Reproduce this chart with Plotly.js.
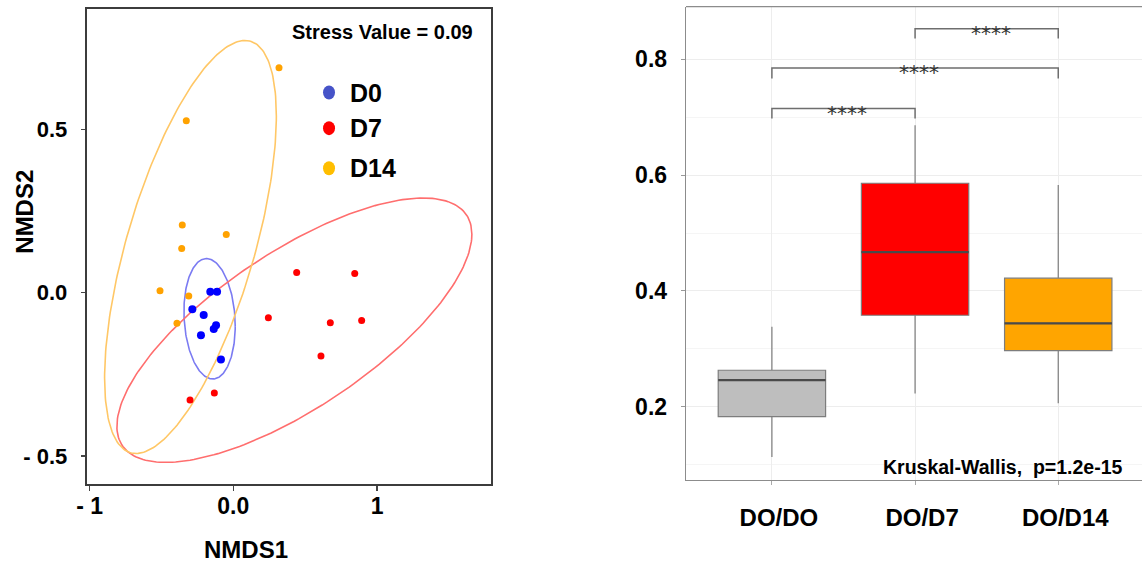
<!DOCTYPE html>
<html>
<head>
<meta charset="utf-8">
<script src="https://cdn.plot.ly/plotly-3.0.1.min.js"></script>
<style>html,body{margin:0;padding:0;background:#fff;}#chart{width:1142px;height:564px;}</style>
</head>
<body>
<div id="chart"></div>
<script>
// ---------- Left panel: NMDS ----------
const groups = ['D0', 'D7', 'D14'];
const d0X = [-0.160, -0.113, -0.285, -0.206, -0.120, -0.136, -0.225, -0.086];
const d0Y = [0.003, 0.003, -0.051, -0.068, -0.100, -0.111, -0.130, -0.205];
const d7X = [0.441, 0.845, 0.244, 0.675, 0.893, 0.610, -0.132, -0.301];
const d7Y = [0.062, 0.059, -0.077, -0.092, -0.085, -0.194, -0.307, -0.329];
const d14X = [0.318, -0.327, -0.355, -0.049, -0.359, -0.510, -0.310, -0.392];
const d14Y = [0.689, 0.527, 0.207, 0.178, 0.135, 0.006, -0.010, -0.094];
// ellipse parameters: centre, half-extent in x and y, covariance term
const ellCx = [-0.165, 0.425, -0.298];
const ellCy = [-0.080, -0.115, 0.140];
const ellHx = [0.1785, 1.235, 0.5975];
const ellHy = [0.1845, 0.405, 0.6325];
const ellSxy = [-0.004, 0.363, 0.2397];
const stressText = 'Stress Value = 0.09';
const nmdsXTicks = [-1, 0, 1];
const nmdsXTickText = ['- 1', '0.0', '1'];
const nmdsYTicks = [-0.5, 0, 0.5];
const nmdsYTickText = ['- 0.5', '0.0', '0.5'];

// ---------- Right panel: boxplot ----------
const boxCats = ['DO/DO', 'DO/D7', 'DO/D14'];
const lowerW = [0.113, 0.223, 0.206];
const q1 = [0.183, 0.358, 0.297];
const med = [0.246, 0.467, 0.344];
const q3 = [0.263, 0.586, 0.422];
const upperW = [0.338, 0.686, 0.583];
const boxYTicks = [0.2, 0.4, 0.6, 0.8];
const bracketFrom = [0, 0, 1];
const bracketTo = [1, 2, 2];
const bracketY = [0.715, 0.785, 0.853];
const bracketTip = [0.017, 0.018, 0.017];
const bracketLabel = ['****', '****', '****'];
const testText = 'Kruskal-Wallis,&nbsp; p=1.2e-15';

// ---------- styles ----------
const FONT = 'Liberation Sans, Arial, Helvetica, sans-serif';
const pointColors = ['#0000FF', '#FF0000', '#FFA200'];
const pointSizes = [8, 7, 7];
const ellColors = ['#7B7BF2', '#FF6E6E', '#FFC766'];
const legendColors = ['#4653C8', '#FF0000', '#FFBE00'];
const boxFill = ['#BEBEBE', '#FF0000', '#FFA500'];

const W = 1142, H = 564;
const L = {x0: 86.7, x1: 491, y0: 9.3, y1: 484};
const R = {x0: 686, x1: 1142, y0: 6.7, y1: 480};

const traces = [];
const ptsX = [d0X, d7X, d14X];
const ptsY = [d0Y, d7Y, d14Y];

// ellipses
for (let g = 0; g < 3; g++) {
  const a11 = ellHx[g];
  const a21 = ellSxy[g] / ellHx[g];
  const a22 = Math.sqrt(ellHy[g] * ellHy[g] - a21 * a21);
  const ex = [], ey = [];
  for (let i = 0; i <= 240; i++) {
    const t = 2 * Math.PI * i / 240;
    ex.push(ellCx[g] + a11 * Math.cos(t));
    ey.push(ellCy[g] + a21 * Math.cos(t) + a22 * Math.sin(t));
  }
  traces.push({type: 'scatter', mode: 'lines', x: ex, y: ey, xaxis: 'x', yaxis: 'y',
    line: {color: ellColors[g], width: 1.6}, hoverinfo: 'skip'});
}
// points
for (let g = 0; g < 3; g++) {
  traces.push({type: 'scatter', mode: 'markers', x: ptsX[g], y: ptsY[g], name: groups[g],
    xaxis: 'x', yaxis: 'y', marker: {color: pointColors[g], size: pointSizes[g]}});
}

// boxes
for (let i = 0; i < boxCats.length; i++) {
  traces.push({type: 'box', x: [i], q1: [q1[i]], median: [med[i]], q3: [q3[i]],
    lowerfence: [lowerW[i]], upperfence: [upperW[i]], width: 0.75, whiskerwidth: 0,
    fillcolor: boxFill[i], line: {color: '#7d7d7d', width: 1.2},
    xaxis: 'x2', yaxis: 'y2', boxpoints: false, hoverinfo: 'skip'});
  traces.push({type: 'scatter', mode: 'lines', x: [i - 0.375, i + 0.375], y: [med[i], med[i]],
    line: {color: '#4a4a4a', width: 2.4}, xaxis: 'x2', yaxis: 'y2', hoverinfo: 'skip'});
}
// brackets
for (let k = 0; k < bracketFrom.length; k++) {
  const a = bracketFrom[k], b = bracketTo[k], y = bracketY[k], tp = bracketTip[k];
  traces.push({type: 'scatter', mode: 'lines', x: [a, a, b, b], y: [y - tp, y, y, y - tp],
    line: {color: '#6e6e6e', width: 1.5}, xaxis: 'x2', yaxis: 'y2', hoverinfo: 'skip'});
}

const annotations = [];
const shapes = [];
// legend (custom)
const legY = [0.613, 0.504, 0.381];
for (let g = 0; g < 3; g++) {
  shapes.push({type: 'circle', xref: 'x', yref: 'y', xsizemode: 'pixel', ysizemode: 'pixel',
    xanchor: 0.666, yanchor: legY[g], x0: -6, x1: 6, y0: -7, y1: 7,
    fillcolor: legendColors[g], line: {width: 0}});
  annotations.push({xref: 'x', yref: 'y', x: 0.80, y: legY[g], xanchor: 'left', yanchor: 'middle',
    text: '<b>' + groups[g] + '</b>', showarrow: false, font: {family: FONT, size: 25, color: '#000'}});
}
annotations.push({xref: 'x', yref: 'y', x: 1.682, y: 0.800, xanchor: 'right', yanchor: 'middle',
  text: '<b>' + stressText + '</b>', showarrow: false, font: {family: FONT, size: 20, color: '#000'}});
annotations.push({xref: 'paper', yref: 'paper', x: 246 / W, y: 1 - 549 / H, xanchor: 'center', yanchor: 'middle',
  text: '<b>NMDS1</b>', showarrow: false, font: {family: FONT, size: 24, color: '#000'}});
annotations.push({xref: 'paper', yref: 'paper', x: 25 / W, y: 1 - 211.7 / H, xanchor: 'center', yanchor: 'middle',
  text: '<b>NMDS2</b>', textangle: -90, showarrow: false, font: {family: FONT, size: 24, color: '#000'}});
// stars
for (let k = 0; k < bracketFrom.length; k++) {
  annotations.push({xref: 'x2', yref: 'y2', x: (bracketFrom[k] + bracketTo[k]) / 2, y: bracketY[k],
    xanchor: 'center', yanchor: 'middle', xshift: 4, yshift: -4, text: bracketLabel[k], showarrow: false,
    font: {family: 'DejaVu Sans, sans-serif', size: 20, color: '#333'}});
}
annotations.push({xref: 'x2', yref: 'y2', x: 0.765, y: 0.0964, xanchor: 'left', yanchor: 'middle',
  text: '<b>' + testText + '</b>', showarrow: false, font: {family: FONT, size: 19.5, color: '#000'}});
// right panel top border (no right border visible)
shapes.push({type: 'line', xref: 'paper', yref: 'paper', x0: R.x0 / W, x1: 1, y0: 1 - R.y0 / H, y1: 1 - R.y0 / H,
  line: {color: '#8c8c8c', width: 1.3}});

const layout = {
  width: W, height: H, margin: {l: 0, r: 0, t: 0, b: 0},
  paper_bgcolor: '#fff', plot_bgcolor: '#fff', showlegend: false,
  font: {family: FONT, color: '#000'},
  xaxis: {domain: [L.x0 / W, L.x1 / W], range: [-1.020, 1.793], anchor: 'y',
    tickmode: 'array', tickvals: nmdsXTicks, ticktext: nmdsXTickText.map(s => '<b>' + s + '</b>'),
    ticks: 'outside', ticklen: 5, tickwidth: 1.2, tickcolor: '#444', ticklabelstandoff: -5,
    showline: true, mirror: true, linecolor: '#3c3c3c', linewidth: 2, showgrid: false, zeroline: false,
    tickfont: {family: FONT, size: 23, color: '#000'}},
  yaxis: {domain: [1 - L.y1 / H, 1 - L.y0 / H], range: [-0.586, 0.868], anchor: 'x',
    tickmode: 'array', tickvals: nmdsYTicks, ticktext: nmdsYTickText.map(s => '<b>' + s + '</b>'),
    ticks: 'outside', ticklen: 4, tickwidth: 1.2, tickcolor: '#444', ticklabelstandoff: 9,
    showline: true, mirror: true, linecolor: '#3c3c3c', linewidth: 2, showgrid: false, zeroline: false,
    tickfont: {family: FONT, size: 22, color: '#000'}},
  xaxis2: {domain: [R.x0 / W, 1], range: [-0.6, 2.585], anchor: 'y2',
    tickmode: 'array', tickvals: [0, 1, 2], ticktext: boxCats.map(s => '<b>' + s + '</b>'),
    ticks: 'outside', ticklen: 4, tickcolor: '#aaa', ticklabelstandoff: 12, ticklabelshift: 7,
    showline: true, mirror: false, linecolor: '#8c8c8c', linewidth: 1.3,
    showgrid: true, gridcolor: '#EDEDED', gridwidth: 1, zeroline: false,
    tickfont: {family: FONT, size: 24, color: '#000'}},
  yaxis2: {domain: [1 - R.y1 / H, 1 - R.y0 / H], range: [0.0734, 0.891], anchor: 'x2',
    tickmode: 'array', tickvals: boxYTicks, ticktext: boxYTicks.map(v => '<b>' + v.toFixed(1) + '</b>'),
    ticks: 'outside', ticklen: 4, tickcolor: '#999', ticklabelstandoff: 9,
    showline: true, mirror: false, linecolor: '#8c8c8c', linewidth: 1.3,
    showgrid: true, gridcolor: '#EDEDED', gridwidth: 1, zeroline: false,
    minor: {tickmode: 'array', tickvals: [0.1, 0.3, 0.5, 0.7], showgrid: true, gridcolor: '#F5F5F5', ticks: ''},
    tickfont: {family: FONT, size: 23, color: '#000'}},
  annotations: annotations,
  shapes: shapes
};

Plotly.newPlot('chart', traces, layout, {staticPlot: true, displayModeBar: false});
</script>
</body>
</html>
